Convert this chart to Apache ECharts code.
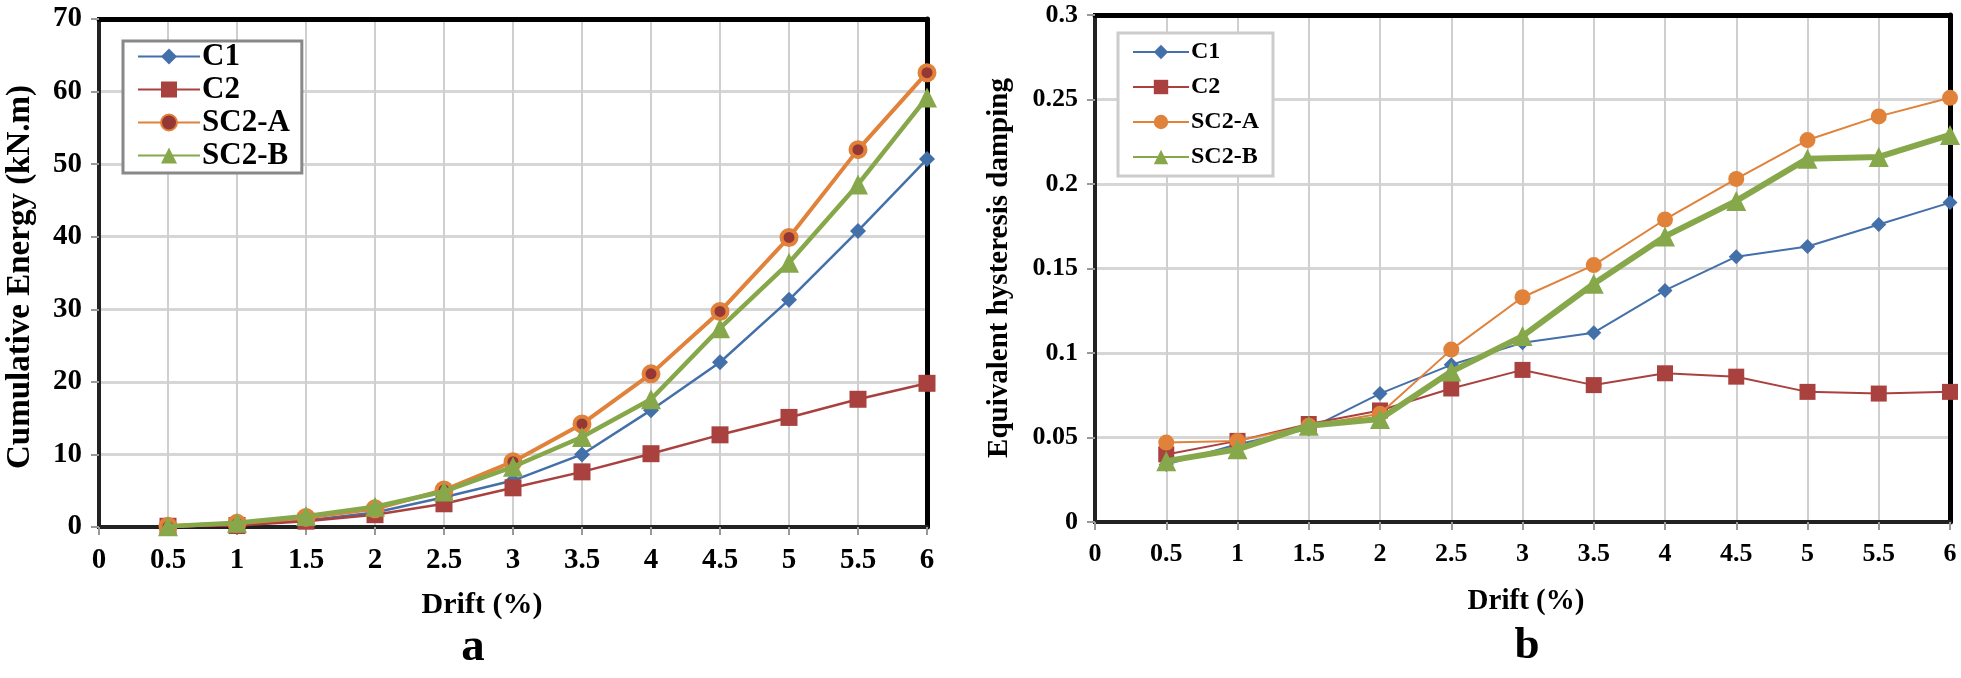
<!DOCTYPE html>
<html>
<head>
<meta charset="utf-8">
<script src="https://cdn.jsdelivr.net/npm/echarts@6/dist/echarts.min.js"></script>
<style>
html,body{margin:0;padding:0;background:#fff;}
#c{width:1961px;height:678px;}
</style>
</head>
<body>
<div id="c"></div>
<script>
// ---- data ----
const drift = [0.5, 1, 1.5, 2, 2.5, 3, 3.5, 4, 4.5, 5, 5.5, 6];
const seriesNames = ['C1', 'C2', 'SC2-A', 'SC2-B'];

const energyC1  = [0.1, 0.3, 0.9, 2.0, 4.1, 6.4, 10.0, 16.1, 22.7, 31.3, 40.8, 50.7];
const energyC2  = [0.1, 0.2, 0.8, 1.7, 3.2, 5.4, 7.6, 10.1, 12.7, 15.1, 17.6, 19.8];
const energySC2A = [0.1, 0.5, 1.3, 2.5, 5.1, 9.0, 14.2, 21.1, 29.7, 39.9, 52.0, 62.6];
const energySC2B = [0.1, 0.6, 1.5, 2.8, 4.9, 8.3, 12.4, 17.6, 27.4, 36.4, 47.2, 59.2];

const dampC1  = [0.034, 0.046, 0.055, 0.076, 0.093, 0.106, 0.112, 0.137, 0.157, 0.163, 0.176, 0.189];
const dampC2  = [0.040, 0.048, 0.058, 0.066, 0.079, 0.090, 0.081, 0.088, 0.086, 0.077, 0.076, 0.077];
const dampSC2A = [0.047, 0.048, 0.057, 0.064, 0.102, 0.133, 0.152, 0.179, 0.203, 0.226, 0.240, 0.251];
const dampSC2B = [0.036, 0.043, 0.057, 0.061, 0.089, 0.110, 0.141, 0.169, 0.190, 0.215, 0.216, 0.229];

const xTitle = 'Drift (%)';
const yTitleA = 'Cumulative Energy (kN.m)';
const yTitleB = 'Equivalent hysteresis damping';
const panelA = 'a';
const panelB = 'b';

// ---- styling ----
const FONT = "'Liberation Serif', 'Times New Roman', serif";
const BLUE = '#4470AA', RED = '#A9413F', ORANGE = '#E0823A', GREEN = '#86A84A', DARKRED = '#953735';

function pair(x, y) { return x.map((v, i) => [v, y[i]]); }

function xAxis(gi, fs) {
  return {
    type: 'value', gridIndex: gi, min: 0, max: 6, interval: 0.5,
    axisLine: { show: true, onZero: false, lineStyle: { color: '#222', width: 4 } },
    axisTick: { show: true, length: 8, lineStyle: { color: '#999', width: 2 } },
    axisLabel: { fontFamily: FONT, fontWeight: 'bold', fontSize: fs, color: '#000', margin: 19 },
    splitLine: { show: true, lineStyle: { color: '#cfcfcf', width: 2 } }
  };
}
function frameX(gi) {
  return {
    type: 'value', gridIndex: gi, position: 'top', min: 0, max: 6, interval: 0.5,
    axisLine: { show: true, onZero: false, lineStyle: { color: '#000', width: 5 } },
    axisTick: { show: false }, axisLabel: { show: false }, splitLine: { show: false }
  };
}
function yAxis(gi, max, interval, fs, fmt) {
  return {
    type: 'value', gridIndex: gi, min: 0, max: max, interval: interval,
    axisLine: { show: true, onZero: false, lineStyle: { color: '#222', width: 4 } },
    axisTick: { show: true, length: 8, lineStyle: { color: '#999', width: 2 } },
    axisLabel: { fontFamily: FONT, fontWeight: 'bold', fontSize: fs, color: '#000', margin: 17, formatter: fmt },
    splitLine: { show: true, lineStyle: { color: '#d6d6d6', width: 3 } }
  };
}
function frameY(gi, max, interval) {
  return {
    type: 'value', gridIndex: gi, position: 'right', min: 0, max: max, interval: interval,
    axisLine: { show: true, onZero: false, lineStyle: { color: '#000', width: 5 } },
    axisTick: { show: false }, axisLabel: { show: false }, splitLine: { show: false }
  };
}

const chart = echarts.init(document.getElementById('c'), null, { renderer: 'canvas' });

const option = {
  animation: false,
  backgroundColor: '#fff',
  grid: [
    { left: 99, top: 19, right: 1034, bottom: 151, show: true, borderColor: '#000', borderWidth: 4, backgroundColor: '#fff' },
    { left: 1095, top: 15, right: 11, bottom: 156, show: true, borderColor: '#000', borderWidth: 4, backgroundColor: '#fff' }
  ],
  xAxis: [xAxis(0, 29), xAxis(1, 26), frameX(0), frameX(1)],
  yAxis: [
    yAxis(0, 70, 10, 29, v => String(v)),
    yAxis(1, 0.3, 0.05, 26, v => String(+v.toFixed(2))),
    frameY(0, 70, 10),
    frameY(1, 0.3, 0.05)
  ],
  legend: [
    {
      data: seriesNames.map(n => ({ name: n })),
      orient: 'vertical', left: 123, top: 41,
      padding: [0, 12, 2, 14],
      itemWidth: 62, itemHeight: 20, itemGap: 2,
      backgroundColor: '#fff', borderColor: '#888', borderWidth: 3,
      selectedMode: false,
      textStyle: { fontFamily: FONT, fontWeight: 'bold', fontSize: 31, color: '#000', lineHeight: 31, padding: [0, 0, 0, -3] },
      formatter: n => n
    },
    {
      data: seriesNames.map(n => ({ name: n + ' ' })),
      orient: 'vertical', left: 1118, top: 33,
      padding: [7, 14, 7, 14],
      itemWidth: 56, itemHeight: 18, itemGap: 11,
      backgroundColor: '#fff', borderColor: '#ccc', borderWidth: 3,
      selectedMode: false,
      textStyle: { fontFamily: FONT, fontWeight: 'bold', fontSize: 24, color: '#000', lineHeight: 24, padding: [0, 0, 0, -3] },
      formatter: n => n.trim()
    }
  ],
  series: [
    { name: 'C1', type: 'line', xAxisIndex: 0, yAxisIndex: 0, data: pair(drift, energyC1),
      symbol: 'diamond', symbolSize: 16, lineStyle: { color: BLUE, width: 2.5 }, itemStyle: { color: BLUE }, z: 3 },
    { name: 'C2', type: 'line', xAxisIndex: 0, yAxisIndex: 0, data: pair(drift, energyC2),
      symbol: 'rect', symbolSize: 17, lineStyle: { color: RED, width: 2.5 }, itemStyle: { color: RED }, z: 3 },
    { name: 'SC2-A', type: 'line', xAxisIndex: 0, yAxisIndex: 0, data: pair(drift, energySC2A),
      symbol: 'circle', symbolSize: 15, lineStyle: { color: ORANGE, width: 4 },
      itemStyle: { color: DARKRED, borderColor: ORANGE, borderWidth: 4 }, z: 4 },
    { name: 'SC2-B', type: 'line', xAxisIndex: 0, yAxisIndex: 0, data: pair(drift, energySC2B),
      symbol: 'triangle', symbolSize: 20, lineStyle: { color: GREEN, width: 4.5 }, itemStyle: { color: GREEN }, z: 5 },

    { name: 'C1 ', type: 'line', xAxisIndex: 1, yAxisIndex: 1, data: pair(drift, dampC1),
      symbol: 'diamond', symbolSize: 15, lineStyle: { color: BLUE, width: 2 }, itemStyle: { color: BLUE }, z: 3 },
    { name: 'C2 ', type: 'line', xAxisIndex: 1, yAxisIndex: 1, data: pair(drift, dampC2),
      symbol: 'rect', symbolSize: 16, lineStyle: { color: RED, width: 2 }, itemStyle: { color: RED }, z: 3 },
    { name: 'SC2-A ', type: 'line', xAxisIndex: 1, yAxisIndex: 1, data: pair(drift, dampSC2A),
      symbol: 'circle', symbolSize: 16, lineStyle: { color: ORANGE, width: 2 }, itemStyle: { color: ORANGE }, z: 4 },
    { name: 'SC2-B ', type: 'line', xAxisIndex: 1, yAxisIndex: 1, data: pair(drift, dampSC2B),
      symbol: 'triangle', symbolSize: 20, lineStyle: { color: GREEN, width: 6 }, itemStyle: { color: GREEN }, z: 5 }
  ],
  graphic: [
    { type: 'text', x: 20, y: 277, rotation: Math.PI / 2,
      style: { text: yTitleA, font: "bold 33px " + FONT, fill: '#000', textAlign: 'center', textVerticalAlign: 'middle' } },
    { type: 'text', x: 482, y: 605,
      style: { text: xTitle, font: "bold 30px " + FONT, fill: '#000', textAlign: 'center', textVerticalAlign: 'middle' } },
    { type: 'text', x: 473, y: 648,
      style: { text: panelA, font: "bold 47px " + FONT, fill: '#000', textAlign: 'center', textVerticalAlign: 'middle' } },
    { type: 'text', x: 1000, y: 268, rotation: Math.PI / 2,
      style: { text: yTitleB, font: "bold 29px " + FONT, fill: '#000', textAlign: 'center', textVerticalAlign: 'middle' } },
    { type: 'text', x: 1526, y: 602,
      style: { text: xTitle, font: "bold 29px " + FONT, fill: '#000', textAlign: 'center', textVerticalAlign: 'middle' } },
    { type: 'text', x: 1527, y: 646,
      style: { text: panelB, font: "bold 45px " + FONT, fill: '#000', textAlign: 'center', textVerticalAlign: 'middle' } }
  ]
};
chart.setOption(option);
</script>
</body>
</html>
